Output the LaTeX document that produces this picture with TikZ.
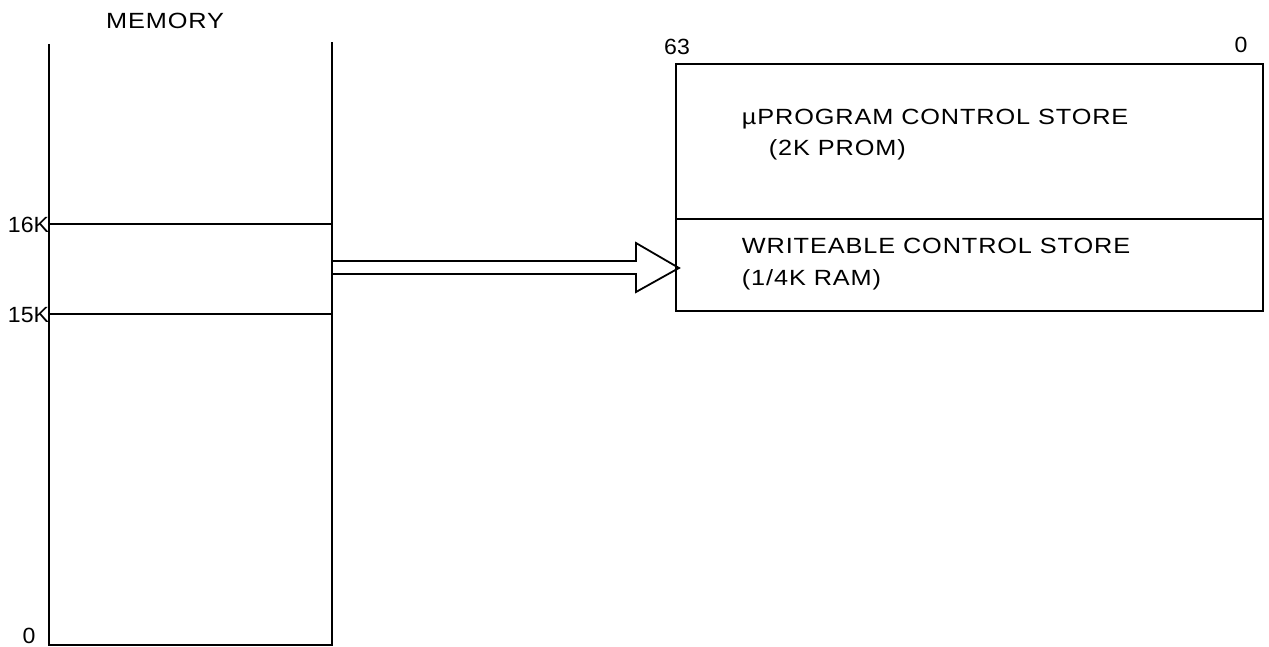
\documentclass[tikz,border=0pt]{standalone}
\usepackage{fontspec}
\setmainfont{Liberation Sans}[FakeStretch=1.15,LetterSpace=4]
\newfontfamily\tightsans{Liberation Sans}[FakeStretch=1.05]
\begin{document}
\begin{tikzpicture}[x=1pt,y=-1pt,line width=1.8pt,
  lbl/.style={inner sep=0pt,font=\fontsize{22}{25}\selectfont},
  klbl/.style={inner sep=0pt,anchor=east,font=\tightsans\fontsize{22}{25}\selectfont},
  boxtxt/.style={inner sep=0pt,anchor=west,font=\fontsize{22}{26}\selectfont}]
\useasboundingbox (0,0) rectangle (1269,647);
% memory
\coordinate (mtl) at (49,44);
\coordinate (mtr) at (332,42);
\coordinate (mbl) at (49,645);
\coordinate (mbr) at (332,645);
\coordinate (m16l) at (49,224);
\coordinate (m16r) at (332,224);
\coordinate (m15l) at (49,314);
\coordinate (m15r) at (332,314);
\draw (mtl) -- (mbl) -- (mbr) -- (mtr);
\draw (m16l) -- (m16r);
\draw (m15l) -- (m15r);
\node[lbl] (memlbl) at (165,21) {MEMORY};
\node[klbl] (k16) at (50,225) {16K};
\node[klbl] (k15) at (50,315) {15K};
\node[klbl,anchor=center] (zero) at (29,636) {0};
% right box
\coordinate (btl) at (676,64);
\coordinate (btr) at (1263,64);
\coordinate (bml) at (676,219);
\coordinate (bmr) at (1263,219);
\coordinate (bbl) at (676,311);
\coordinate (bbr) at (1263,311);
\draw (btl) rectangle (bbr);
\draw (bml) -- (bmr);
\node[klbl,anchor=center] (b63) at (677,47) {63};
\node[klbl,anchor=center] (b0) at (1241,45) {0};
\node[boxtxt] (t1) at (741,119) {µPROGRAM CONTROL STORE};
\node[boxtxt] (t2) at (768,150) {(2K PROM)};
\node[boxtxt] (t3) at (741,246) {WRITEABLE CONTROL STORE};
\node[boxtxt] (t4) at (741,280) {(1/4K RAM)};
% hollow arrow
\coordinate (tip) at (679,268);
\draw[line join=miter] (333,261) -- (636,261) -- (636,243) -- (tip) -- (636,292) -- (636,274) -- (333,274);
\end{tikzpicture}
\end{document}
